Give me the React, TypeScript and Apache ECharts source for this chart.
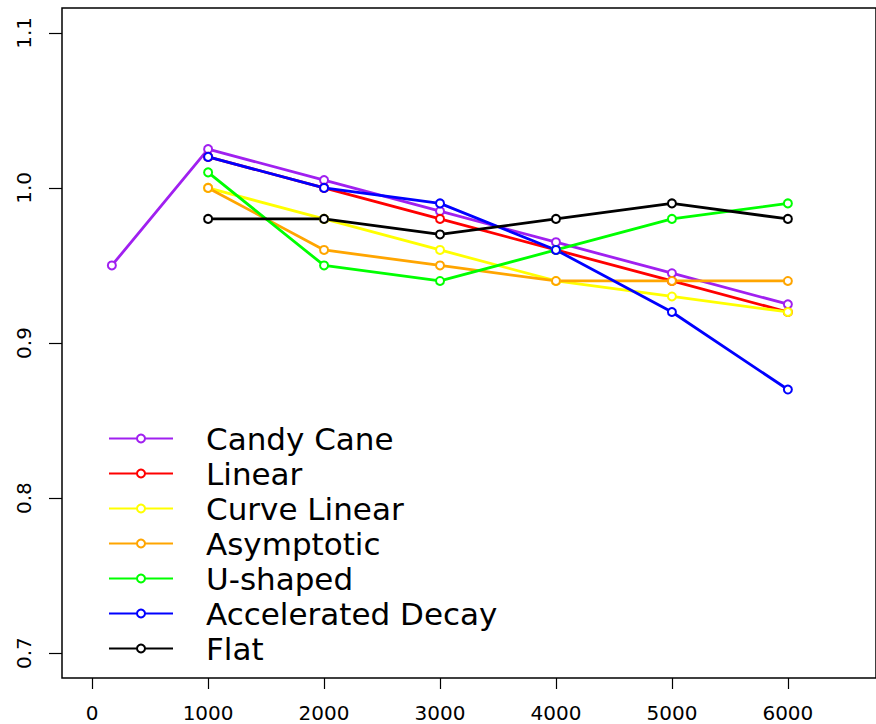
import React, { useEffect, useRef } from "react";
import * as echarts from "echarts";

const seriesNames = ["Candy Cane", "Linear", "Curve Linear", "Asymptotic", "U-shaped", "Accelerated Decay", "Flat"];
const seriesColors = ["#A020F0", "#FF0000", "#FFFF00", "#FFA500", "#00FF00", "#0000FF", "#000000"];

const candyCaneX = [170, 1000, 2000, 3000, 4000, 5000, 6000];
const commonX = [1000, 2000, 3000, 4000, 5000, 6000];

const candyCane = [0.95, 1.025, 1.005, 0.985, 0.965, 0.945, 0.925];
const linear = [1.02, 1.0, 0.98, 0.96, 0.94, 0.92];
const curveLinear = [1.0, 0.98, 0.96, 0.94, 0.93, 0.92];
const asymptotic = [1.0, 0.96, 0.95, 0.94, 0.94, 0.94];
const uShaped = [1.01, 0.95, 0.94, 0.96, 0.98, 0.99];
const acceleratedDecay = [1.02, 1.0, 0.99, 0.96, 0.92, 0.87];
const flat = [0.98, 0.98, 0.97, 0.98, 0.99, 0.98];

const xTicks = [0, 1000, 2000, 3000, 4000, 5000, 6000];
const yTicks = [0.7, 0.8, 0.9, 1.0, 1.1];

const FONT = "DejaVu Sans";

export default function App() {
  const ref = useRef<HTMLDivElement>(null);

  useEffect(() => {
    document.body.style.margin = "0";
    const chart = echarts.init(ref.current!, null, { renderer: "svg" });

    const seriesX = [candyCaneX, commonX, commonX, commonX, commonX, commonX, commonX];
    const seriesY = [candyCane, linear, curveLinear, asymptotic, uShaped, acceleratedDecay, flat];

    const series = seriesNames.map((name, i) => ({
      name,
      type: "line",
      data: seriesY[i].map((v, j) => [seriesX[i][j], v]),
      symbol: "emptyCircle",
      symbolSize: 8,
      lineStyle: { color: seriesColors[i], width: 2.8 },
      itemStyle: { color: seriesColors[i], borderColor: seriesColors[i], borderWidth: 2.5 },
      emphasis: { disabled: true },
    }));

    chart.setOption({
      animation: false,
      backgroundColor: "#ffffff",
      grid: {
        show: true,
        left: 62,
        top: 8,
        width: 821,
        height: 670,
        borderColor: "#000",
        borderWidth: 1.5,
        backgroundColor: "transparent",
      },
      legend: {
        orient: "vertical",
        left: 108,
        top: 421,
        padding: 0,
        itemGap: 0,
        itemWidth: 64,
        itemHeight: 10,
        data: seriesNames,
        textStyle: {
          fontFamily: FONT,
          fontSize: 31,
          color: "#000",
          lineHeight: 35,
          padding: [0, 0, 0, 28],
        },
      },
      xAxis: {
        type: "value",
        min: -260,
        max: 6760,
        axisLine: { show: false, onZero: false },
        splitLine: { show: false },
        axisTick: {
          show: true,
          customValues: xTicks,
          length: 11,
          lineStyle: { color: "#000", width: 1.2 },
        },
        axisLabel: {
          customValues: xTicks,
          margin: 25,
          fontFamily: FONT,
          fontSize: 20,
          color: "#000",
          formatter: (v: number) => String(v),
        },
      },
      yAxis: {
        type: "value",
        min: 0.684,
        max: 1.116,
        axisLine: { show: false, onZero: false },
        splitLine: { show: false },
        axisTick: {
          show: true,
          customValues: yTicks,
          length: 13,
          lineStyle: { color: "#000", width: 1.2 },
        },
        axisLabel: {
          customValues: yTicks,
          rotate: 90,
          margin: 28,
          fontFamily: FONT,
          fontSize: 20,
          color: "#000",
          formatter: (v: number) => v.toFixed(1),
        },
      },
      series,
    });

    return () => chart.dispose();
  }, []);

  return <div ref={ref} style={{ width: 876, height: 724 }} />;
}
